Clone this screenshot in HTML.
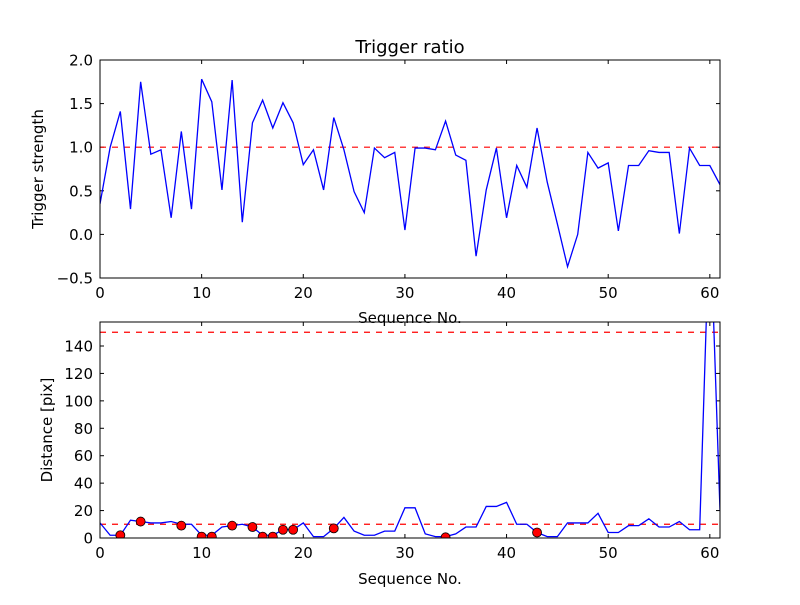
<!DOCTYPE html>
<html><head><meta charset="utf-8"><style>
body{margin:0;background:#fff;}
svg text{font-family:"DejaVu Sans","Liberation Sans",sans-serif;}
</style></head><body>
<svg id="c" width="800" height="600"></svg>
<script>
const seq = Array.from({length:62},(_,i)=>i);
const strength = [0.35,1.0,1.41,0.29,1.75,0.92,0.97,0.19,1.18,0.29,1.78,1.52,0.51,1.77,0.14,1.28,1.54,1.22,1.51,1.28,0.80,0.97,0.51,1.34,0.97,0.49,0.25,0.99,0.88,0.94,0.05,0.99,0.99,0.97,1.30,0.91,0.85,-0.25,0.51,0.99,0.19,0.79,0.54,1.22,0.60,0.12,-0.37,0.0,0.94,0.76,0.82,0.04,0.79,0.79,0.96,0.94,0.94,0.01,0.99,0.79,0.79,0.57];
const distance = [11,2,2,13,12,11,11,12,10,10,2,2,8,9,10,8,2,2,6,6,11,1,1,7,15,5,2,2,5,5,22,22,3,1,1,3,8,8,23,23,26,10,10,4,1,1,11,11,11,18,4,4,9,9,14,8,8,12,6,6,240,20];
const markerIdx = [2,4,8,10,11,13,15,16,17,18,19,23,34,43];
const markerVal = [2,12,9,1,1,9,8,1,1,6,6,7,0.5,4];
const topTicks = [-0.5,0.0,0.5,1.0,1.5,2.0];
const botTicks = [0,20,40,60,80,100,120,140];
const xTicks = [0,10,20,30,40,50,60];

const NS="http://www.w3.org/2000/svg";
const svg=document.getElementById('c');
function el(t,a,p){const e=document.createElementNS(NS,t);for(const k in a)e.setAttribute(k,a[k]);(p||svg).appendChild(e);return e;}
function txt(x,y,s,size,anchor,name,extra){const e=el('text',Object.assign({x:x,y:y,'font-size':size,'text-anchor':anchor,fill:'#000'},extra||{}));e.textContent=s;return e;}

function panel(top,bot,ymin,ymax,yt,fmt,id){
  const L=100,R=720;
  const X=v=>L+(v-0)/61*(R-L);
  const Y=v=>bot-(v-ymin)/(ymax-ymin)*(bot-top);
  const g=el('g',{});
  
  
  const cp=el('clipPath',{id:id+'clip'},g);el('rect',{x:L,y:top,width:R-L,height:bot-top},cp);
  xTicks.forEach(t=>{
    el('line',{x1:X(t),x2:X(t),y1:bot,y2:bot-4,stroke:'#000'},g);
    el('line',{x1:X(t),x2:X(t),y1:top,y2:top+4,stroke:'#000'},g);
    txt(X(t),bot+20,String(t),15,'middle','x-tick-label');
  });
  yt.forEach(t=>{
    el('line',{x1:L,x2:L+4,y1:Y(t),y2:Y(t),stroke:'#000'},g);
    el('line',{x1:R,x2:R-4,y1:Y(t),y2:Y(t),stroke:'#000'},g);
    txt(L-7,Y(t)+5.5,fmt(t),15,'end','y-tick-label');
  });
  return {g,X,Y,L,R};
}

const p1=panel(60,278,-0.5,2.0,topTicks,t=>t.toFixed(1).replace('-','\u2212'),'top');
let l=el('line',{x1:p1.L,x2:p1.R,y1:p1.Y(1),y2:p1.Y(1),stroke:'#f00','stroke-dasharray':'6,6','stroke-width':1.2},p1.g);

let pl=el('polyline',{points:seq.map((s,i)=>p1.X(s)+','+p1.Y(strength[i])).join(' '),fill:'none',stroke:'#00f','stroke-width':1.3,'clip-path':'url(#topclip)'},p1.g);

el('rect',{x:100,y:60,width:620,height:218,fill:'none',stroke:'#000'},p1.g);
txt(410,53,'Trigger ratio',18,'middle','chart-title');
txt(43,169,'Trigger strength',15,'middle','y-axis-title',{transform:'rotate(-90 43 169)'});
txt(410,323,'Sequence No.',15,'middle','x-axis-title');

const p2=panel(322,538,0,157.5,botTicks,t=>String(t),'bot');
[10,150].forEach(v=>{const h=el('line',{x1:p2.L,x2:p2.R,y1:p2.Y(v),y2:p2.Y(v),stroke:'#f00','stroke-dasharray':'6,6','stroke-width':1.2},p2.g);
});
pl=el('polyline',{points:seq.map((s,i)=>p2.X(s)+','+p2.Y(distance[i])).join(' '),fill:'none',stroke:'#00f','stroke-width':1.3,'clip-path':'url(#botclip)'},p2.g);

markerIdx.forEach((s,i)=>{const c=el('circle',{cx:p2.X(s),cy:p2.Y(markerVal[i]),r:4.5,fill:'#f00',stroke:'#000','stroke-width':0.8,'clip-path':'url(#botclip)'},p2.g);
});
el('rect',{x:100,y:322,width:620,height:216,fill:'none',stroke:'#000'},p2.g);
txt(52,430,'Distance [pix]',15,'middle','y-axis-title',{transform:'rotate(-90 52 430)'});
txt(410,584,'Sequence No.',15,'middle','x-axis-title');
</script>
</body></html>
